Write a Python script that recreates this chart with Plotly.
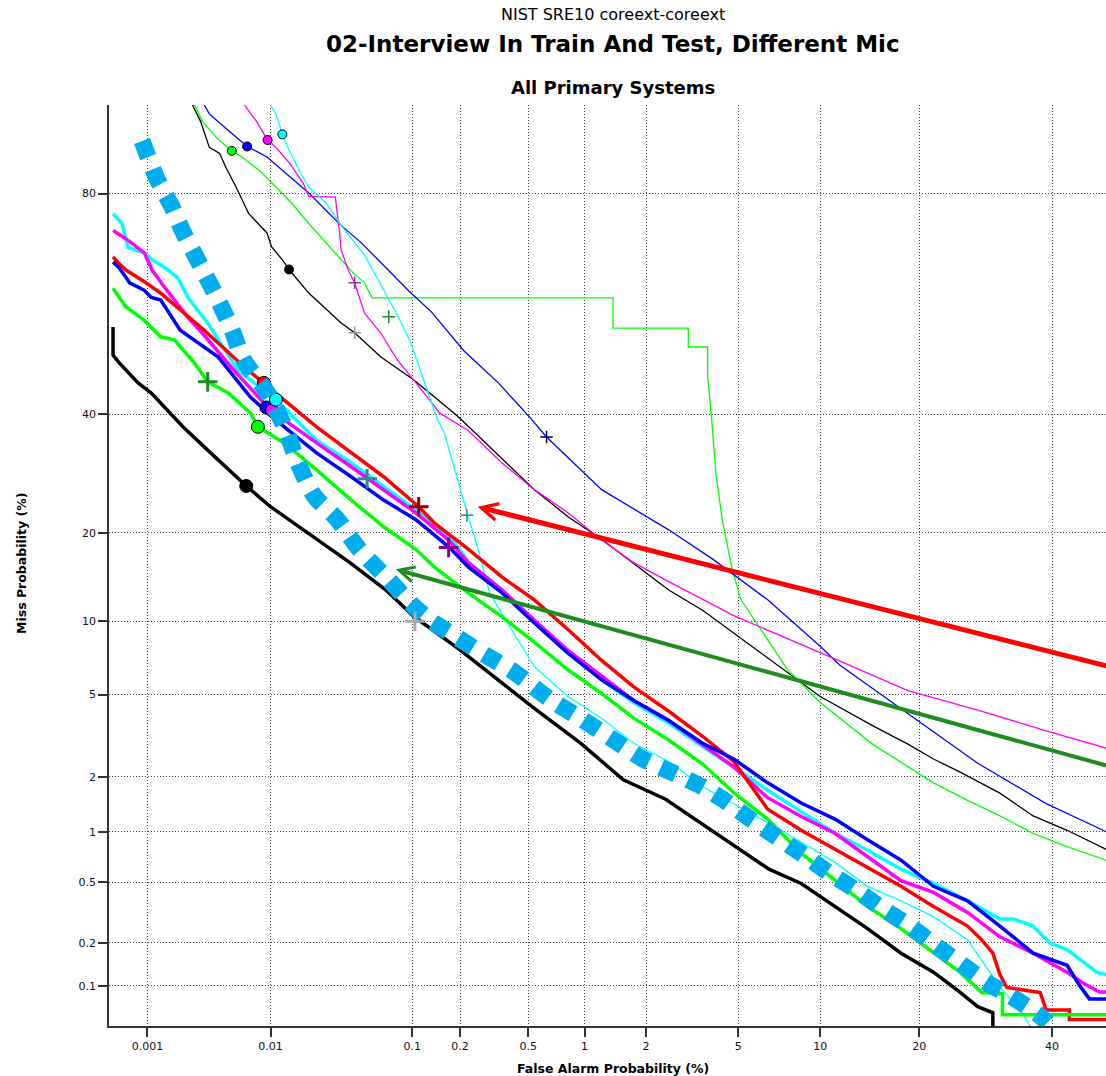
import plotly.graph_objects as go
from statistics import NormalDist

_nd = NormalDist()


def pz(vals):
    """Normal-deviate (probit) scale used by DET plots; values are in percent."""
    return [_nd.inv_cdf(v / 100.0) for v in vals]


# ---------------- axis ticks ----------------
x_ticks = [0.001, 0.01, 0.1, 0.2, 0.5, 1, 2, 5, 10, 20, 40]
x_tick_labels = ["0.001", "0.01", "0.1", "0.2", "0.5", "1", "2", "5", "10", "20", "40"]
y_ticks = [0.1, 0.2, 0.5, 1, 2, 5, 10, 20, 40, 80]
y_tick_labels = ["0.1", "0.2", "0.5", "1", "2", "5", "10", "20", "40", "80"]
x_limits = [0.00046, 49.44]
y_limits = [0.05, 90.0]

# ---------------- thick (primary) curves ----------------
fa_black_thick = [0.0005, 0.0005, 0.00056, 0.00065, 0.00083, 0.00108, 0.002, 0.0032, 0.0047, 0.0065,
                  0.01, 0.0186, 0.038, 0.067, 0.103, 0.196, 0.4, 0.54, 0.95, 1.56, 2.46, 4.17, 6.57,
                  8.6, 11.2, 14.2, 17.8, 21.8, 25, 28, 30.3, 30.3]
miss_black_thick = [57.1, 51.6, 50.2, 48.6, 46.1, 44.1, 37.6, 33.3, 29.8, 27.1, 23.8, 20.1, 16.1, 13.0,
                    10.4, 7.8, 5.25, 4.33, 2.97, 1.93, 1.52, 0.96, 0.6, 0.49, 0.35, 0.25, 0.17, 0.125,
                    0.093, 0.07, 0.063, 0.045]

fa_green_thick = [0.0005, 0.00065, 0.00093, 0.0013, 0.0017, 0.0025, 0.0032, 0.0047, 0.007, 0.008,
                  0.0127, 0.022, 0.039, 0.065, 0.105, 0.138, 0.224, 0.355, 0.54, 0.82, 1.22, 1.75,
                  2.54, 3.57, 4.8, 6.5, 8.6, 11.2, 14.2, 17.8, 21.8, 25.4, 28.6, 31.8, 31.8, 49.5]
miss_green_thick = [64.5, 61, 58.5, 55.2, 54.6, 50, 46.3, 44.1, 40.2, 37.6, 34.6, 29.8, 24.8, 20.8,
                    17.8, 15.6, 12.7, 10.4, 8.3, 6.4, 5.05, 3.9, 3.07, 2.33, 1.65, 1.18, 0.75, 0.51,
                    0.35, 0.25, 0.17, 0.125, 0.089, 0.087, 0.061, 0.061]

fa_red_thick = [0.0005, 0.00056, 0.00065, 0.00083, 0.00097, 0.0013, 0.003, 0.0063, 0.0089, 0.0127,
                0.022, 0.039, 0.065, 0.11, 0.138, 0.224, 0.355, 0.54, 0.82, 1.22, 1.75, 2.54, 3.57,
                4.8, 6.5, 8.6, 11.2, 14.2, 17.8, 21.8, 26.5, 28.6, 30.3, 31.4, 32.5, 38, 39, 43, 43,
                47.2, 49.5]
miss_red_thick = [70.1, 69.0, 67.8, 66.5, 65.5, 63.6, 56.5, 49.2, 46.1, 42.7, 37.6, 32.8, 28.6, 23.8,
                  21.4, 17.8, 14.4, 12, 9.3, 7.0, 5.4, 4.2, 3.2, 2.4, 1.34, 1.02, 0.79, 0.62, 0.47,
                  0.35, 0.26, 0.21, 0.17, 0.12, 0.097, 0.089, 0.066, 0.066, 0.056, 0.056, 0.056]

fa_blue_thick = [0.0005, 0.00056, 0.00065, 0.0007, 0.00093, 0.00108, 0.0013, 0.0019, 0.0039, 0.007,
                 0.0127, 0.022, 0.039, 0.065, 0.105, 0.17, 0.224, 0.355, 0.54, 0.82, 1.22, 1.75, 2.54,
                 3.57, 4.8, 6.5, 8.6, 11.2, 14.2, 17.8, 21.8, 26.5, 31.4, 36.8, 42.6, 44.8, 46.5, 49.5]
miss_blue_thick = [69.2, 68.3, 66.5, 65.5, 64.2, 62.8, 62.3, 56.5, 51.2, 43.3, 37.6, 32.8, 28.6, 24.8,
                   21.9, 18.1, 15.6, 12.7, 9.85, 7.5, 5.8, 4.7, 3.8, 2.96, 2.47, 1.86, 1.45, 1.18, 0.9,
                   0.68, 0.47, 0.38, 0.26, 0.17, 0.14, 0.1, 0.08, 0.08]

fa_magenta_thick = [0.0005, 0.00068, 0.00094, 0.0011, 0.0014, 0.0018, 0.0022, 0.0029, 0.0052, 0.01,
                    0.0127, 0.022, 0.039, 0.065, 0.105, 0.17, 0.224, 0.355, 0.54, 0.82, 1.22, 1.75,
                    2.54, 3.57, 4.8, 6.5, 8.6, 11.2, 14.2, 17.8, 21.8, 26.5, 31.4, 36.8, 42.6, 45.3,
                    48.3, 49.5]
miss_magenta_thick = [74.5, 72.9, 70.8, 67.8, 64.7, 61.7, 59.0, 55.9, 48.6, 40.8, 38.9, 34.6, 30.3,
                      26.5, 22.9, 19.0, 16.1, 13.0, 10.1, 7.7, 6.0, 4.7, 3.8, 2.9, 2.25, 1.55, 1.22,
                      0.98, 0.71, 0.51, 0.43, 0.32, 0.22, 0.17, 0.125, 0.105, 0.09, 0.09]

fa_cyan_thick = [0.0005, 0.0006, 0.00068, 0.00094, 0.0011, 0.0014, 0.0018, 0.0022, 0.0032, 0.0056,
                 0.011, 0.022, 0.039, 0.065, 0.105, 0.18, 0.224, 0.355, 0.54, 0.82, 1.22, 1.75, 2.54,
                 3.57, 4.8, 6.5, 8.6, 11.2, 14.2, 17.8, 21.8, 26.5, 31.4, 33.5, 36.8, 39.6, 42.6, 45.3,
                 47.8, 49.5]
miss_cyan_thick = [77.1, 75.6, 71.7, 70.8, 69.6, 68.3, 66.5, 62.8, 57.9, 48.6, 42.8, 35.1, 31.0, 27.0,
                   23.3, 19.0, 16.2, 13.0, 10.1, 7.6, 5.8, 4.6, 3.7, 2.85, 2.25, 1.7, 1.3, 0.98, 0.78,
                   0.6, 0.49, 0.38, 0.29, 0.29, 0.26, 0.2, 0.18, 0.15, 0.125, 0.12]

# ---------------- thin (contrast) curves ----------------
fa_black_thin = [0.0024, 0.0028, 0.0033, 0.004, 0.0045, 0.0054, 0.0068, 0.0094, 0.0102, 0.0123, 0.0138,
                 0.0193, 0.033, 0.041, 0.062, 0.102, 0.195, 0.355, 0.54, 0.82, 1.22, 1.75, 2.54, 3.57,
                 4.8, 7.9, 10, 14.7, 18.6, 21.8, 25.3, 31.4, 36.8, 42.6, 48.3, 49.5]
miss_black_thin = [90, 88.5, 85.8, 85.1, 83.4, 80.9, 77.1, 74.1, 71.8, 69.6, 67.9, 63.6, 57.9, 56, 51.2,
                   46.7, 39.5, 31.7, 26.5, 22.3, 19.1, 16.0, 13.0, 11.0, 9.0, 6.1, 4.9, 3.6, 2.93, 2.47,
                   2.13, 1.64, 1.23, 1.02, 0.82, 0.79]

fa_blue_thin = [0.003, 0.0033, 0.0045, 0.0066, 0.0094, 0.0132, 0.0193, 0.026, 0.033, 0.046, 0.067,
                0.095, 0.133, 0.21, 0.34, 0.51, 0.63, 1.22, 2.54, 3.95, 6.5, 10, 11.6, 18.6, 28, 39, 49.5]
miss_blue_thin = [90, 89.2, 87.8, 85.9, 84.7, 82.6, 80.1, 77.5, 75.3, 72.4, 68.2, 64.0, 60.0, 52.5,
                  46.0, 39.4, 35.7, 26.5, 20.4, 16.5, 12.0, 8.0, 6.7, 4.1, 2.35, 1.44, 1.0]

fa_green_thin = [0.0025, 0.0029, 0.0038, 0.005, 0.006, 0.0083, 0.011, 0.0145, 0.0193, 0.026, 0.033,
                 0.04, 0.048, 0.054, 1.39, 1.39, 3.1, 3.1, 3.75, 3.75, 3.9, 4.05, 4.3, 4.7, 5.1, 5.6,
                 6.5, 7.7, 10, 14.7, 21.8, 26.5, 31.4, 36.8, 42.6, 49.5]
miss_green_thin = [90, 88.5, 86.8, 85.4, 84.7, 83, 80.9, 78.6, 75.6, 72.4, 69.6, 67.3, 65.5, 62.7,
                   62.7, 56.9, 56.9, 53.2, 53.2, 47.5, 38.9, 29.6, 22.0, 15.7, 12.1, 10.6, 8.5, 6.4,
                   4.6, 2.93, 1.86, 1.5, 1.23, 0.98, 0.82, 0.68]

fa_magenta_thin = [0.0063, 0.0078, 0.0095, 0.011, 0.014, 0.0176, 0.0193, 0.03, 0.032, 0.033, 0.037,
                   0.041, 0.048, 0.062, 0.08, 0.102, 0.15, 0.224, 0.355, 0.54, 0.82, 1.22, 1.75, 2.54,
                   4.8, 6.6, 10.9, 18.6, 28, 39, 49.5]
miss_magenta_thin = [90, 88.5, 86.6, 85.8, 83.9, 81.4, 79.6, 79.5, 74.6, 71.3, 67.8, 65.5, 59.8, 55.9,
                     50.6, 46.7, 40.2, 36.9, 31.0, 26.5, 22.9, 19.0, 16.1, 13.9, 10.5, 9.2, 7.2, 5.2,
                     4.25, 3.4, 2.8]

fa_cyan_thin = [0.01, 0.011, 0.0123, 0.0138, 0.0165, 0.0193, 0.026, 0.033, 0.048, 0.062, 0.08, 0.098,
                0.12, 0.145, 0.16, 0.2, 0.224, 0.26, 0.3, 0.41, 0.54, 0.82, 1.22, 1.75, 2.54, 3.57, 7.3,
                11.2, 14.2, 17.8, 21.8, 26.5, 28.6, 31.4, 34.2, 37]
miss_cyan_thin = [90, 89.2, 87.2, 85.5, 83, 80.9, 78.6, 75.3, 70.4, 65.1, 59.4, 54, 46, 38.9, 36.4,
                  26.5, 22.3, 17.4, 12.7, 9.1, 6.6, 4.9, 3.9, 2.96, 2.4, 1.78, 1.02, 0.66, 0.47, 0.38,
                  0.3, 0.21, 0.15, 0.098, 0.07, 0.045]

# ---------------- dotted light-blue reference curve ----------------
fa_ref = [0.0009, 0.0012, 0.0016, 0.002, 0.0028, 0.004, 0.005, 0.0062, 0.0095, 0.013, 0.016, 0.021,
          0.031, 0.044, 0.07, 0.097, 0.13, 0.19, 0.28, 0.41, 0.66, 0.95, 1.4, 1.9, 2.6, 3.57, 4.4, 5.5,
          6.9, 8.8, 10.7, 13.2, 15.7, 18.8, 21.9, 25.4, 29.4, 33.3, 37.9, 39.2]
miss_ref = [86.5, 82.1, 78.3, 74.3, 68.6, 61.7, 56.6, 50.6, 44.1, 37.1, 31.2, 25.6, 21.9, 17.8, 14.1,
            11.7, 10.1, 8.7, 7.4, 6.3, 4.75, 3.9, 3.07, 2.5, 2.12, 1.77, 1.5, 1.2, 0.95, 0.73, 0.57,
            0.44, 0.34, 0.26, 0.195, 0.145, 0.105, 0.083, 0.06, 0.053]

# ---------------- operating-point markers ----------------
big_circle_fa = [0.0065, 0.008, 0.0089, 0.0093, 0.0103, 0.011]
big_circle_miss = [27.1, 37.6, 46.1, 41.3, 40.7, 42.8]
big_circle_colors = ["#000000", "#00FF00", "#FF0000", "#0000FF", "#FF00FF", "#00FFFF"]

small_circle_fa = [0.005, 0.0066, 0.0095, 0.0123, 0.0138]
small_circle_miss = [85.4, 85.9, 86.6, 87.2, 67.9]
small_circle_colors = ["#00FF00", "#0000FF", "#FF00FF", "#00FFFF", "#000000"]

big_cross_fa = [0.0032, 0.05, 0.11, 0.17, 0.104]
big_cross_miss = [46.3, 28.3, 23.8, 18.0, 10.0]
big_cross_colors = ["#1E8C1E", "#2E8B8B", "#8B0000", "#8B008B", "#A8A8A8"]

small_cross_fa = [0.041, 0.041, 0.07, 0.22, 0.63]
small_cross_miss = [56.0, 65.5, 59.1, 22.5, 35.7]
small_cross_colors = ["#9A9A9A", "#993399", "#1E8C1E", "#2E8B8B", "#000060"]

# ---------------- arrows (head, tail) ----------------
red_arrow_head = (0.255, 23.8)
red_arrow_tail = (50.0, 6.6)
green_arrow_head = (0.078, 15.3)
green_arrow_tail = (50.0, 2.27)

# ================= figure =================
fig = go.Figure()

thin_curves = [
    (fa_black_thin, miss_black_thin, "#000000"),
    (fa_green_thin, miss_green_thin, "#00FF00"),
    (fa_blue_thin, miss_blue_thin, "#0000FF"),
    (fa_magenta_thin, miss_magenta_thin, "#FF00FF"),
    (fa_cyan_thin, miss_cyan_thin, "#00FFFF"),
]
for fa, miss, col in thin_curves:
    fig.add_trace(go.Scatter(x=pz(fa), y=pz(miss), mode="lines",
                             line=dict(color=col, width=1.3), hoverinfo="skip"))

thick_curves = [
    (fa_cyan_thick, miss_cyan_thick, "#00FFFF"),
    (fa_magenta_thick, miss_magenta_thick, "#FF00FF"),
    (fa_red_thick, miss_red_thick, "#FF0000"),
    (fa_blue_thick, miss_blue_thick, "#0000FF"),
    (fa_green_thick, miss_green_thick, "#00FF00"),
    (fa_black_thick, miss_black_thick, "#000000"),
]
for fa, miss, col in thick_curves:
    fig.add_trace(go.Scatter(x=pz(fa), y=pz(miss), mode="lines",
                             line=dict(color=col, width=3.5), hoverinfo="skip"))

fig.add_trace(go.Scatter(x=pz(big_circle_fa), y=pz(big_circle_miss), mode="markers",
                         marker=dict(symbol="circle", size=13, color=big_circle_colors,
                                     line=dict(color="#000000", width=1)), hoverinfo="skip"))
fig.add_trace(go.Scatter(x=pz(small_circle_fa), y=pz(small_circle_miss), mode="markers",
                         marker=dict(symbol="circle", size=9, color=small_circle_colors,
                                     line=dict(color="#000000", width=1)), hoverinfo="skip"))

fig.add_trace(go.Scatter(x=pz(fa_ref), y=pz(miss_ref), mode="lines",
                         line=dict(color="#00AEEF", width=17, dash="17px,13px", shape="spline",
                                   smoothing=0.8),
                         hoverinfo="skip"))

for i in range(len(big_cross_fa)):
    fig.add_trace(go.Scatter(x=pz([big_cross_fa[i]]), y=pz([big_cross_miss[i]]), mode="markers",
                             marker=dict(symbol="cross-thin", size=14,
                                         line=dict(color=big_cross_colors[i], width=3)),
                             hoverinfo="skip"))
for i in range(len(small_cross_fa)):
    fig.add_trace(go.Scatter(x=pz([small_cross_fa[i]]), y=pz([small_cross_miss[i]]), mode="markers",
                             marker=dict(symbol="cross-thin", size=9,
                                         line=dict(color=small_cross_colors[i], width=1.5)),
                             hoverinfo="skip"))

for head, tail, col, w, sz in [
    (red_arrow_head, red_arrow_tail, "#FF0000", 5, 0.66),
    (green_arrow_head, green_arrow_tail, "#1E8C1E", 4, 0.75),
]:
    hx, hy = pz([head[0]])[0], pz([head[1]])[0]
    tx, ty = pz([tail[0]])[0], pz([tail[1]])[0]
    fig.add_annotation(x=hx, y=hy, ax=tx, ay=ty, xref="x", yref="y", axref="x", ayref="y",
                       text="", showarrow=True, arrowhead=5, arrowsize=sz, arrowwidth=w,
                       arrowcolor=col)

FONT = "DejaVu Sans"
PLOT_TOP, PLOT_BOTTOM, PLOT_LEFT, PLOT_W = 105, 1026, 109, 997
PLOT_H = PLOT_BOTTOM - PLOT_TOP


def py(p):
    return (PLOT_BOTTOM - p) / PLOT_H


def px(p):
    return (p - PLOT_LEFT) / PLOT_W


cx = px(613)
fig.add_annotation(text="NIST SRE10 coreext-coreext", x=cx, y=py(15), xref="paper", yref="paper",
                   showarrow=False, font=dict(family=FONT, size=16, color="#000000"),
                   xanchor="center", yanchor="middle")
fig.add_annotation(text="<b>02-Interview In Train And Test, Different Mic</b>", x=cx, y=py(44),
                   xref="paper", yref="paper", showarrow=False,
                   font=dict(family=FONT, size=23, color="#000000"), xanchor="center", yanchor="middle")
fig.add_annotation(text="<b>All Primary Systems</b>", x=cx, y=py(87), xref="paper", yref="paper",
                   showarrow=False, font=dict(family=FONT, size=18, color="#000000"),
                   xanchor="center", yanchor="middle")
fig.add_annotation(text="<b>False Alarm Probability (%)</b>", x=cx, y=py(1068), xref="paper",
                   yref="paper", showarrow=False, font=dict(family=FONT, size=12.5, color="#000000"),
                   xanchor="center", yanchor="middle")
fig.add_annotation(text="<b>Miss Probability (%)</b>", x=px(21), y=py(564), xref="paper",
                   yref="paper", showarrow=False, textangle=-90,
                   font=dict(family=FONT, size=12.5, color="#000000"),
                   xanchor="center", yanchor="middle")

axis_common = dict(showgrid=True, gridcolor="#444444", gridwidth=1, griddash="1px,2px",
                   zeroline=False, showline=True, linecolor="#333333", linewidth=1.5,
                   ticks="outside", ticklen=9, tickwidth=1.5, tickcolor="#333333",
                   tickfont=dict(family=FONT, size=11, color="#111111"), mirror=False)

fig.update_layout(
    width=1106, height=1076, autosize=False,
    margin=dict(l=PLOT_LEFT, r=0, t=PLOT_TOP, b=1076 - PLOT_BOTTOM),
    paper_bgcolor="white", plot_bgcolor="white", showlegend=False,
    xaxis=dict(range=pz(x_limits), tickmode="array", tickvals=pz(x_ticks), ticktext=x_tick_labels,
               **axis_common),
    yaxis=dict(range=pz(y_limits), tickmode="array", tickvals=pz(y_ticks), ticktext=y_tick_labels,
               **axis_common),
)

fig.write_html("out.html")
